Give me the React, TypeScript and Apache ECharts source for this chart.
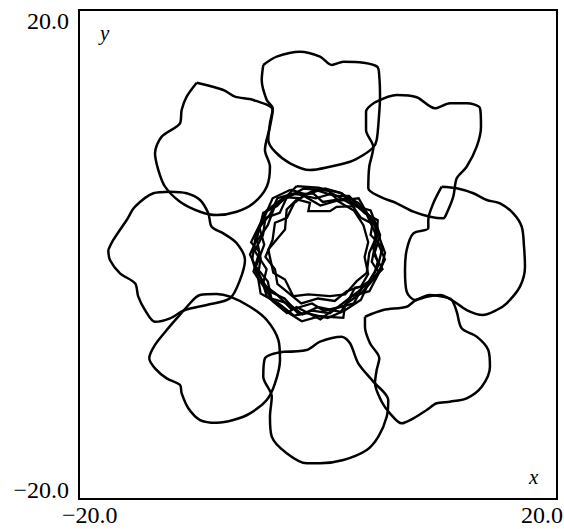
import React, { useEffect, useRef } from "react";
import * as echarts from "echarts";

type Pt = [number, number];

// Axis ranges and the tick labels printed at the ends of each axis
const xRange: Pt = [-20, 20];
const yRange: Pt = [-20, 20];
const xTickLabels = ["−20.0", "20.0"];
const yTickLabels = ["−20.0", "20.0"];
const xAxisName = "x";
const yAxisName = "y";

// Eight lobed closed orbits arranged around the origin
const lobeTop: Pt[] = [
  [-4.58, 15.5], [-3.46, 16.18], [-1.51, 16.59], [0.17, 16.18], [1.15, 15.5], [2.12, 15.77],
  [3.79, 15.69], [4.96, 15.36], [5.13, 14.54], [5.19, 12.91], [5.08, 11.0], [4.91, 9.37],
  [4.63, 8.77], [3.79, 8.14], [2.68, 7.59], [1.0, 7.18], [-0.67, 6.91], [-2.34, 7.46],
  [-3.6, 8.41], [-4.16, 9.37], [-4.02, 10.73], [-3.79, 11.96], [-4.29, 12.64], [-4.71, 14.27],
];

const lobeTopRight: Pt[] = [
  [4.77, 12.45], [6.59, 13.05], [8.26, 12.86], [9.79, 11.96], [11.05, 12.37], [12.44, 12.37],
  [13.56, 11.96], [13.64, 10.45], [13.28, 8.82], [12.44, 7.18], [11.61, 6.23], [11.32, 4.73],
  [10.77, 3.37], [10.49, 2.96], [9.37, 3.09], [7.98, 3.5], [6.59, 4.19], [5.19, 4.73],
  [4.21, 5.42], [4.29, 7.18], [4.63, 8.77], [4.02, 10.18], [4.02, 11.68],
];

const lobeRight: Pt[] = [
  [10.35, 5.55], [11.61, 5.42], [13.0, 5.01], [14.12, 4.46], [15.23, 4.19], [16.34, 3.37],
  [17.05, 2.27], [17.24, 0.64], [17.32, -1.0], [16.9, -2.63], [15.79, -3.99], [14.95, -4.54],
  [13.78, -4.95], [12.44, -4.54], [11.19, -3.72], [10.21, -3.31], [9.1, -3.45], [8.12, -3.72],
  [7.42, -3.04], [7.28, -1.27], [7.42, 0.37], [7.98, 1.73], [9.23, 2.14], [9.23, 2.82],
  [9.65, 4.19],
];

const lobeBottomRight: Pt[] = [
  [3.93, -5.09], [5.46, -4.54], [7.42, -4.27], [8.12, -3.78], [9.37, -3.31], [10.49, -3.45],
  [11.19, -3.72], [11.61, -4.68], [12.02, -6.04], [13.28, -6.72], [14.25, -7.81], [14.39, -9.18],
  [13.7, -10.81], [12.44, -11.76], [11.05, -12.04], [9.93, -12.17], [9.1, -12.72], [7.98, -13.4],
  [7.0, -13.81], [6.02, -12.99], [5.33, -12.04], [4.77, -10.54], [4.91, -9.45], [5.13, -8.49],
  [4.35, -7.26], [3.93, -5.91],
];

const lobeBottom: Pt[] = [
  [-2.9, -7.95], [-0.95, -7.81], [0.17, -7.13], [1.98, -6.72], [2.68, -7.26], [3.37, -8.9],
  [4.63, -10.4], [5.88, -11.9], [5.75, -13.27], [5.05, -14.9], [4.08, -15.99], [2.12, -16.81],
  [0.17, -17.08], [-0.95, -17.08], [-2.62, -16.26], [-3.87, -14.9], [-4.02, -13.27],
  [-3.87, -11.63], [-4.58, -10.0], [-4.44, -8.49],
];

const lobeBottomLeft: Pt[] = [
  [-10.71, -3.99], [-9.87, -3.31], [-8.48, -3.23], [-7.36, -3.45], [-5.69, -4.27], [-4.29, -5.36],
  [-3.32, -6.99], [-3.18, -8.63], [-3.6, -10.54], [-4.29, -11.9], [-5.69, -12.99], [-7.09, -13.54],
  [-8.48, -13.76], [-9.87, -13.54], [-10.85, -12.58], [-11.41, -11.35], [-11.55, -10.67],
  [-12.66, -10.13], [-13.64, -9.31], [-14.12, -8.49], [-13.64, -7.4], [-12.66, -6.18],
  [-11.82, -5.22],
];

const lobeLeft: Pt[] = [
  [-17.55, 0.37], [-17.41, -0.45], [-16.57, -1.54], [-15.31, -2.36], [-15.04, -3.45], [-14.48, -4.54],
  [-13.64, -5.5], [-12.38, -5.22], [-11.13, -4.54], [-9.31, -4.13], [-7.36, -3.58], [-6.53, -2.09],
  [-6.11, -0.45], [-6.8, 0.92], [-7.92, 1.73], [-8.9, 2.27], [-9.18, 3.37], [-9.87, 4.46],
  [-10.99, 5.01], [-12.38, 5.14], [-13.78, 5.01], [-15.31, 3.91], [-16.01, 2.82], [-17.13, 1.19],
];

const lobeTopLeft: Pt[] = [
  [-10.15, 14.05], [-7.92, 13.46], [-6.95, 12.91], [-5.41, 12.64], [-3.79, 11.82], [-4.02, 10.45],
  [-4.44, 8.55], [-4.02, 7.18], [-4.29, 5.55], [-5.41, 4.19], [-6.8, 3.5], [-8.48, 3.23],
  [-9.87, 3.5], [-11.55, 4.32], [-12.8, 5.55], [-13.36, 6.91], [-13.64, 8.28], [-13.08, 9.64],
  [-11.55, 10.73], [-11.41, 11.82], [-10.99, 12.91],
];

// Kinked loops of the orbit that winds around the centre
const coreLoopA: Pt[] = [
  [-1.78, 5.59], [0.03, 5.46], [1.84, 5.05], [3.37, 4.23], [4.91, 2.45], [5.19, 1.23], [5.61, 0.14],
  [5.33, -0.96], [4.63, -2.05], [3.66, -3.13], [2.26, -4.09], [2.12, -5.18], [0.17, -5.05],
  [-1.36, -5.46], [-2.9, -4.5], [-4.29, -3.41], [-4.71, -2.05], [-5.69, 0.0], [-5.13, 1.23],
  [-4.58, 3.41], [-3.46, 3.95], [-2.07, 5.32],
];

const coreLoopB: Pt[] = [
  [-1.78, 4.5], [-0.67, 4.23], [-0.81, 3.54], [1.0, 3.54], [1.56, 3.9], [3.24, 3.95], [4.08, 3.27],
  [4.91, 1.5], [4.29, 0.14], [4.08, -1.5], [3.24, -2.18], [2.26, -3.27], [1.0, -3.41], [-0.81, -3.27],
  [-2.07, -3.41], [-2.76, -2.05], [-3.74, -1.5], [-4.16, 0.41], [-2.76, 2.05], [-2.62, 3.68],
];

const coreLoopC: Pt[] = [
  [-2.5, 4.9], [-0.4, 5.0], [0.4, 4.3], [2.4, 4.6], [3.8, 3.6], [4.6, 2.7], [4.4, 1.6], [5.4, 0.6],
  [5.0, -1.0], [4.0, -2.6], [3.1, -2.7], [2.3, -4.2], [0.5, -4.6], [-0.5, -4.0], [-2.2, -4.5],
  [-3.4, -3.3], [-4.6, -2.4], [-4.3, -1.2], [-5.3, 0.3], [-4.6, 1.6], [-4.4, 3.0], [-3.2, 3.4],
];

const coreLoopD: Pt[] = [
  [-3.0, 4.4], [-1.2, 5.4], [0.9, 5.2], [1.7, 4.4], [3.4, 4.6], [4.2, 3.2], [5.0, 2.0], [4.6, 0.6],
  [5.0, -0.6], [4.6, -2.0], [3.4, -3.0], [2.6, -3.6], [1.0, -4.8], [-0.5, -4.6], [-1.6, -4.9],
  [-2.8, -3.6], [-4.1, -3.0], [-5.0, -1.6], [-4.8, -0.3], [-5.1, 1.1], [-4.2, 2.4], [-3.6, 4.0],
];

const coreLoopE: Pt[] = [
  [-2.0, 5.0], [-0.2, 4.6], [1.2, 5.0], [2.8, 4.1], [3.6, 3.0], [4.8, 2.4], [4.8, 0.9], [4.5, -0.6],
  [5.1, -1.5], [4.3, -3.0], [2.8, -3.4], [1.9, -4.7], [0.0, -4.3], [-1.3, -4.9], [-2.5, -4.0],
  [-3.9, -3.6], [-4.2, -2.2], [-5.2, -1.0], [-4.5, 0.8], [-4.9, 2.2], [-4.0, 3.3], [-3.4, 4.6],
];

const coreLoopF: Pt[] = [
  [-2.3, 5.3], [-1.0, 4.9], [0.6, 5.4], [2.0, 5.0], [3.0, 4.0], [4.4, 3.6], [5.2, 1.6], [4.7, 0.0],
  [5.4, -1.2], [4.2, -2.4], [3.6, -3.7], [2.2, -4.6], [0.8, -5.2], [-0.9, -4.8], [-2.0, -5.0],
  [-3.3, -4.0], [-4.8, -3.2], [-5.0, -2.0], [-5.5, -0.4], [-5.2, 1.6], [-4.6, 2.8], [-3.8, 4.6],
];

const coreLoopG: Pt[] = [
  [-2.8, 4.7], [-1.5, 4.6], [-0.3, 5.3], [1.4, 4.8], [2.6, 4.8], [3.9, 3.4], [5.0, 2.8], [4.9, 1.2],
  [5.6, -0.4], [4.9, -1.8], [3.8, -2.5], [3.0, -4.0], [1.4, -4.4], [0.2, -5.3], [-1.8, -4.3],
  [-2.6, -4.8], [-3.8, -3.8], [-4.4, -2.8], [-5.4, -1.4], [-4.9, 0.2], [-5.6, 1.0], [-4.3, 3.6],
];

const coreLoopH: Pt[] = [
  [-1.2, 4.8], [0.2, 4.0], [1.6, 4.4], [3.0, 3.6], [3.8, 2.4], [4.2, 1.0], [3.9, -0.2], [4.2, -1.6],
  [3.6, -2.6], [2.4, -3.0], [1.4, -3.8], [0.0, -3.6], [-1.4, -4.0], [-2.4, -3.2], [-3.4, -2.4],
  [-3.6, -1.2], [-4.4, -0.2], [-3.8, 1.2], [-3.6, 2.6], [-2.6, 3.0], [-2.0, 4.2],
];

const lobes: Pt[][] = [
  lobeTop, lobeTopRight, lobeRight, lobeBottomRight,
  lobeBottom, lobeBottomLeft, lobeLeft, lobeTopLeft,
];
const coreLoops: Pt[][] = [
  coreLoopA, coreLoopB, coreLoopC, coreLoopD, coreLoopE, coreLoopF, coreLoopG, coreLoopH,
];

const W = 564;
const H = 529;
const GRID = { left: 79, top: 10, right: 7, bottom: 30 };
const SERIF = "'Liberation Serif', 'Times New Roman', serif";

const closeLoop = (pts: Pt[]): Pt[] => [...pts, pts[0]];

export default function App() {
  const ref = useRef<HTMLDivElement>(null);

  useEffect(() => {
    if (!ref.current) return;
    const chart = echarts.init(ref.current, undefined, { renderer: "svg", width: W, height: H });

    const series: any[] = [
      ...lobes.map((pts, i) => ({
        name: "lobe" + i,
        type: "line",
        data: closeLoop(pts),
        showSymbol: false,
        smooth: 0.3,
        lineStyle: { color: "#000", width: 2.5 },
        silent: true,
        clip: false,
      })),
      ...coreLoops.map((pts, i) => ({
        name: "core" + i,
        type: "line",
        data: closeLoop(pts),
        showSymbol: false,
        smooth: false,
        lineStyle: { color: "#000", width: 2.3, join: "miter" },
        silent: true,
        clip: false,
      })),
    ];

    const plotRight = W - GRID.right;
    const plotBottom = H - GRID.bottom;
    const labelFont = { fontFamily: SERIF, fontSize: 24, fill: "#000" };
    const nameFont = { fontFamily: SERIF, fontStyle: "italic", fontSize: 21, fill: "#000" };

    chart.setOption({
      animation: false,
      backgroundColor: "#fff",
      grid: {
        ...GRID,
        show: true,
        borderColor: "#000",
        borderWidth: 2,
        containLabel: false,
        outerBoundsMode: "none",
      },
      xAxis: {
        type: "value",
        min: xRange[0],
        max: xRange[1],
        interval: 40,
        axisLine: { show: false },
        axisTick: { show: false },
        axisLabel: { show: false },
        splitLine: { show: false },
      },
      yAxis: {
        type: "value",
        min: yRange[0],
        max: yRange[1],
        interval: 40,
        axisLine: { show: false },
        axisTick: { show: false },
        axisLabel: { show: false },
        splitLine: { show: false },
      },
      series,
      graphic: [
        { type: "text", x: GRID.left - 10, y: GRID.top + 11, style: { ...labelFont, text: yTickLabels[1], align: "right", verticalAlign: "middle" } },
        { type: "text", x: GRID.left - 10, y: plotBottom - 9, style: { ...labelFont, text: yTickLabels[0], align: "right", verticalAlign: "middle" } },
        { type: "text", x: GRID.left - 17, y: plotBottom + 16, style: { ...labelFont, text: xTickLabels[0], align: "left", verticalAlign: "middle" } },
        { type: "text", x: plotRight + 6, y: plotBottom + 16, style: { ...labelFont, text: xTickLabels[1], align: "right", verticalAlign: "middle" } },
        { type: "text", x: GRID.left + 21, y: GRID.top + 23, style: { ...nameFont, text: yAxisName, align: "left", verticalAlign: "middle" } },
        { type: "text", x: plotRight - 28, y: plotBottom - 22, style: { ...nameFont, text: xAxisName, align: "left", verticalAlign: "middle" } },
      ],
    });

    return () => chart.dispose();
  }, []);

  return (
    <div
      ref={ref}
      style={{ position: "absolute", left: 0, top: 0, width: W, height: H, background: "#fff" }}
    />
  );
}
